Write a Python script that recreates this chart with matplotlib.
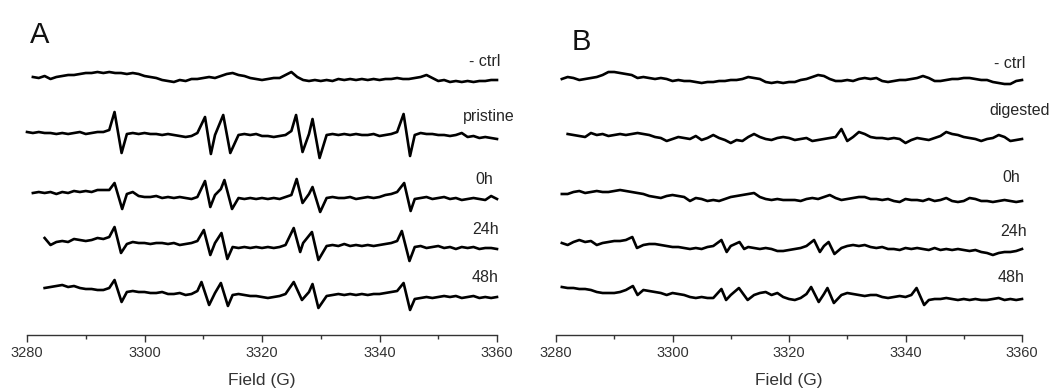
import numpy as np
import matplotlib.pyplot as plt
from matplotlib.ticker import MultipleLocator

plt.rcParams["font.family"] = ["Liberation Sans", "DejaVu Sans"]

N = None  # grid point replaced by a resonance line

# Spectra on a 1 G grid (signal in arbitrary units, up = positive).
# Each resonance line: (field of max, max, field of min, min).

# ---- Panel A ----
labels_A = ["- ctrl", "pristine", "0h", "24h", "48h"]
starts_A = [3281, 3280, 3281, 3283, 3283]

ctrl_A = [1, 0, 2, -1, 1, 2, 3, 3, 4, 5,
          5, 6, 5, 6, 5, 5, 4, 5, 4, 2,
          1, 0, -2, -3, -4, -2, -3, -1, -1, 0,
          1, 0, 2, 4, 5, 3, 2, 0, -1, -2,
          -1, 0, 0, 3, 6, 1, -2, -3, -2, -3,
          -2, -3, -1, -2, -1, -2, -1, -2, -1, -2,
          -1, -1, 0, -1, -1, 0, 1, 3, 0, -3,
          -2, -4, -3, -4, -3, -4, -3, -3, -2, -2]
pristine_A = [0, -1, 0, -1, -1, -2, -1, -2, -1, 0,
              -2, -1, 0, 0, 2, N, N, -2, -1, -2,
              -1, -2, -2, -3, -2, -3, -4, -5, -4, -1,
              N, N, -3, N, N, N, -3, -2, -3, -2,
              -4, -4, -5, -4, -3, 1, N, N, -2, N,
              N, -3, -2, -3, -2, -3, -2, -3, -3, -2,
              -4, -3, -2, 0, N, N, -3, -1, -2, -2,
              -3, -3, -4, -3, -1, -5, -4, -6, -5, -6,
              -7]
h0_A = [0, 1, 0, 1, -1, 1, 0, 2, 1, 2,
        1, 3, 3, 3, N, N, -1, 1, -3, -4,
        -4, -3, -5, -4, -5, -4, -5, -6, -4, N,
        N, -2, 4, N, N, -5, -6, -5, -6, -5,
        -6, -5, -6, -4, -2, N, N, -1, N, N,
        -5, -4, -5, -5, -4, -6, -5, -4, -5, -4,
        -2, -1, 1, N, N, -6, -5, -4, -6, -5,
        -4, -6, -5, -7, -6, -5, -6, -7, -3, -6]
h24_A = [3, -4, -1, 0, -1, 2, 1, 0,
         1, 3, 2, 4, N, N, -3, -1, -2, -2,
         -3, -2, -2, -3, -2, -4, -3, -2, 0, N,
         N, -2, N, N, -6, -7, -6, -7, -6, -7,
         -6, -7, -6, -4, N, N, -2, N, N, N,
         -5, -4, -5, -3, -5, -4, -5, -4, -5, -4,
         -3, -2, 0, N, N, -6, -5, -7, -6, -5,
         -7, -6, -8, -6, -7, -6, -8, -7, -7, -8]
h48_A = [2, 3, 4, 5, 3, 4, 2, 1,
         1, 0, 0, 2, N, N, -2, -1, -2, -2,
         -3, -3, -2, -4, -4, -3, -5, -4, -1, N,
         N, -3, N, N, -5, -4, -5, -6, -6, -7,
         -8, -7, -6, -4, N, N, N, -2, N, N,
         -6, -5, -4, -5, -4, -5, -4, -5, -4, -4,
         -3, -2, -1, N, N, -9, -8, -7, -8, -7,
         -6, -7, -6, -8, -7, -6, -8, -7, -8, -7]
values_A = [ctrl_A, pristine_A, h0_A, h24_A, h48_A]
lines_A = [
    [],
    [(3294.9, 20, 3296.1, -21), (3310.3, 15, 3311.3, -22), (3313.4, 17, 3314.6, -21),
     (3325.8, 17, 3326.9, -20), (3328.6, 13, 3329.8, -26), (3344.1, 18, 3345.2, -24)],
    [(3294.9, 10, 3296.2, -16), (3310.3, 12, 3311.2, -14), (3313.6, 13, 3314.9, -16),
     (3325.9, 14, 3326.9, -10), (3328.6, 6, 3329.9, -19), (3344.2, 10, 3345.3, -18)],
    [(3294.9, 14, 3296.0, -12), (3310.1, 11, 3311.2, -14), (3313.1, 8, 3314.1, -18),
     (3325.4, 13, 3326.5, -11), (3328.5, 9, 3329.6, -19), (3343.8, 10, 3345.1, -20)],
    [(3294.9, 10, 3296.1, -12), (3309.7, 8, 3311.0, -15), (3313.0, 7, 3314.2, -16),
     (3325.4, 8, 3326.8, -10), (3328.6, 6, 3329.6, -18), (3344.1, 7, 3345.2, -20)],
]

# ---- Panel B ----
labels_B = ["- ctrl", "digested", "0h", "24h", "48h"]
starts_B = [3281, 3282, 3281, 3281, 3281]

ctrl_B = [-1, 1, 0, -2, -1, 0, 1, 3, 6, 6,
          5, 4, 3, 0, 1, 0, -1, 0, -1, -3,
          -2, -3, -3, -4, -5, -4, -4, -3, -3, -2,
          -2, -1, 1, 0, -1, -4, -5, -4, -5, -4,
          -4, -2, -1, 1, 3, 2, -1, -3, -3, -2,
          -3, -1, 0, -1, 0, -3, -4, -3, -2, -2,
          -1, 0, 2, 0, -3, -3, -2, -1, -1, 0,
          0, -1, -2, -2, -4, -5, -6, -6, -3, -2]
digested_B = [1, 0, -1, -2, 2, 0, 1, -1, 0,
              1, 0, 1, 2, 1, 0, -2, -3, -6, -4,
              -2, -3, -4, -1, -5, -3, 0, -3, -5, -8,
              -5, -6, -2, 1, -2, -4, -5, -3, -2, -3,
              -5, -4, -3, -6, -5, -4, -3, -2, 6, -6,
              -2, 3, 1, -2, -3, -3, -4, -3, -4, -8,
              -5, -3, -4, -5, -3, -1, 3, 1, 0, -2,
              -3, -4, -6, -4, -3, 0, -2, -6, -5, -4]
h0_B = [-1, -1, 1, 2, 0, 1, 2, 1, 1, 2,
        3, 2, 1, 0, -1, -3, -4, -5, -3, -2,
        -3, -4, -8, -5, -6, -8, -7, -8, -6, -4,
        -3, -2, -1, 0, -4, -6, -7, -6, -7, -7,
        -7, -8, -6, -5, -6, -4, -2, -5, -7, -6,
        -5, -4, -4, -6, -6, -7, -6, -8, -9, -6,
        -7, -7, -8, -6, -8, -7, -5, -8, -9, -8,
        -5, -6, -8, -8, -9, -8, -7, -8, -9, -8]
h24_B = [0, -2, 1, 3, 1, 2, -2, 0, 1, 2,
         2, 3, N, N, -2, -1, -1, -2, -3, -4,
         -4, -5, -6, -5, -6, -4, -3, N, N, -3,
         N, N, -4, -5, -6, -5, -6, -8, -8, -7,
         -6, -5, -3, N, N, -3, N, N, -5, -3,
         -2, -3, -2, -4, -5, -4, -6, -6, -7, -5,
         -6, -5, -6, -7, -5, -7, -6, -7, -6, -7,
         -8, -7, -9, -10, -12, -10, -9, -9, -8, -6]
h48_B = [0, -1, -1, -2, -2, -3, -5, -6, -6, -6,
         -5, -3, N, N, -3, -4, -5, -6, -8, -6,
         -7, -8, -10, -11, -10, -11, -11, N, N, -8,
         N, N, N, -8, -6, -5, -8, -6, -10, -12,
         -13, -11, -7, N, N, -7, N, N, -8, -6,
         -7, -8, -9, -8, -8, -10, -11, -10, -9, -10,
         -8, N, N, -13, -12, -12, -11, -12, -13, -12,
         -13, -12, -13, -13, -12, -11, -13, -12, -13, -12]
values_B = [ctrl_B, digested_B, h0_B, h24_B, h48_B]
lines_B = [
    [],
    [],
    [],
    [(3293.1, 6, 3293.9, -5), (3308.4, 3, 3309.3, -9), (3311.5, 1, 3312.3, -6),
     (3324.3, 3, 3325.3, -9), (3326.8, 1, 3327.8, -11)],
    [(3293.2, 1, 3294.0, -8), (3308.4, -2, 3309.2, -13), (3311.4, -1, 3312.9, -13),
     (3323.8, 0, 3325.1, -15), (3326.6, -1, 3327.7, -16), (3341.9, -1, 3343.2, -18)],
]

# layout: vertical stacking offsets and label placement (data units)
offsets_A = [257, 203, 142, 94, 45]
offsets_B = [257, 200, 142, 92, 48]
label_pos_A = [(3360.5, 273), (3363.0, 218), (3359.3, 155), (3360.3, 105), (3360.2, 58)]
label_pos_B = [(3360.5, 272), (3364.8, 225), (3359.7, 157), (3360.9, 104), (3360.5, 57)]


def trace(start, values, lines):
    xs = [start + i for i, v in enumerate(values) if v is not None]
    ys = [v for v in values if v is not None]
    for top, up, bottom, down in lines:
        xs += [top, bottom]
        ys += [up, down]
    order = np.argsort(xs)
    return np.array(xs, float)[order], np.array(ys, float)[order]


fig = plt.figure(figsize=(10.55, 3.9), dpi=100)
axA = fig.add_axes([27 / 1055, 55 / 390, 470 / 1055, 285 / 390])
axB = fig.add_axes([556 / 1055, 55 / 390, 466 / 1055, 285 / 390])

panels = [
    (axA, labels_A, starts_A, values_A, lines_A, offsets_A, label_pos_A),
    (axB, labels_B, starts_B, values_B, lines_B, offsets_B, label_pos_B),
]
for ax, labels, starts, values, lines, offsets, label_pos in panels:
    for lab, st, vals, lns, off, (lx, ly) in zip(labels, starts, values, lines, offsets, label_pos):
        x, y = trace(st, vals, lns)
        ax.plot(x, y + off, color="black", lw=1.9, solid_joinstyle="round", clip_on=False)
        ax.text(lx, ly, lab, ha="right", va="center", fontsize=11.5, color="#262626")

    ax.set_xlim(3280, 3360)
    ax.set_ylim(0, 285)
    ax.patch.set_visible(False)
    for s in ("left", "right", "top"):
        ax.spines[s].set_visible(False)
    ax.spines["bottom"].set_color("#333333")
    ax.spines["bottom"].set_linewidth(1.0)
    ax.set_yticks([])
    ax.xaxis.set_major_locator(MultipleLocator(20))
    ax.xaxis.set_minor_locator(MultipleLocator(10))
    ax.tick_params(axis="x", which="major", length=5, width=1, direction="out",
                   labelsize=10.5, pad=3, colors="#333333")
    ax.tick_params(axis="x", which="minor", length=3, width=1, direction="out",
                   colors="#333333")
    ax.set_xlabel("Field (G)", fontsize=12.5, labelpad=9, color="#333333")

fig.text(30 / 1055, 1 - 43 / 390, "A", fontsize=21, va="baseline", color="#111111")
fig.text(572 / 1055, 1 - 50 / 390, "B", fontsize=21, va="baseline", color="#111111")

plt.savefig("out.png", dpi=100)
plt.close()
